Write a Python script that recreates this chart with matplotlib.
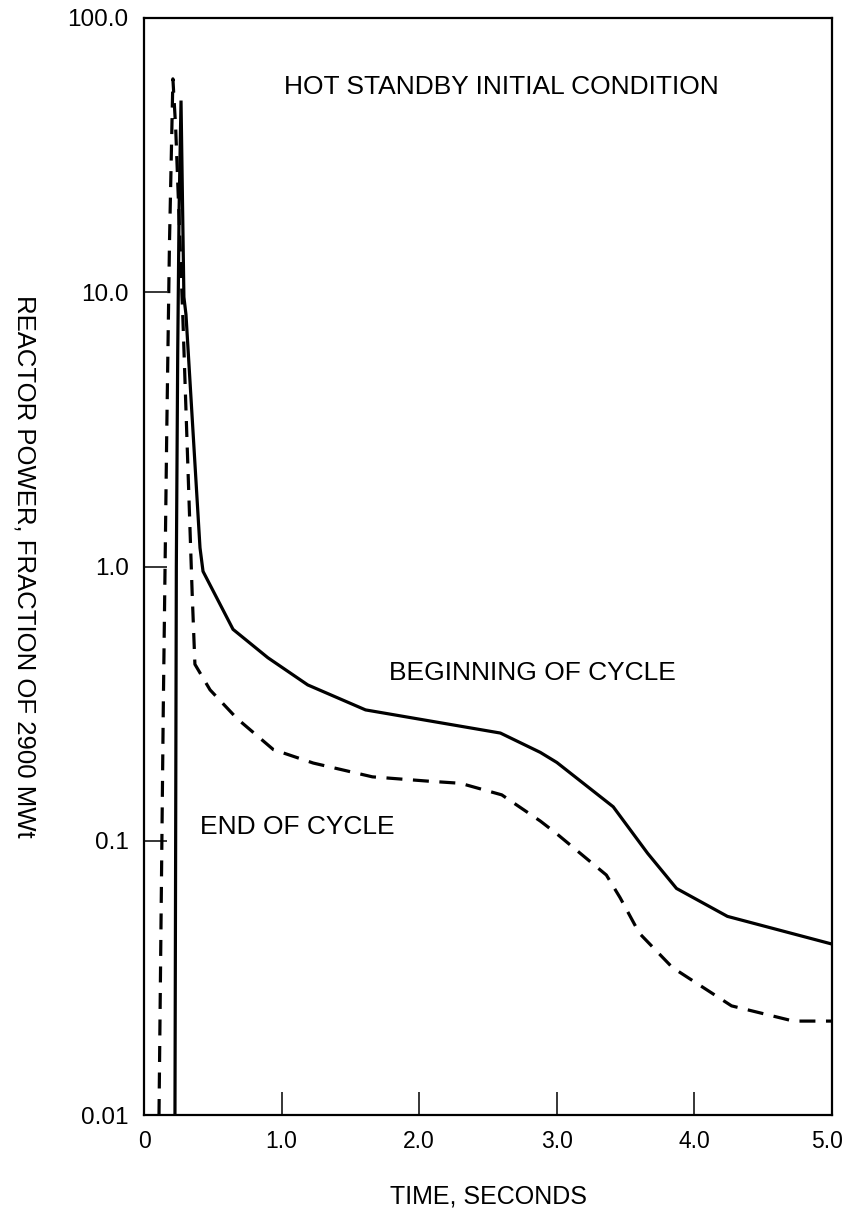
import matplotlib
matplotlib.use("Agg")
import matplotlib.pyplot as plt
from matplotlib.ticker import FixedLocator, FixedFormatter, NullLocator
from matplotlib.transforms import ScaledTranslation

plt.rcParams['font.family'] = ['Liberation Sans', 'DejaVu Sans']

# Beginning of cycle (solid)
boc_t = [0.225, 0.235, 0.245, 0.255, 0.269, 0.29, 0.305, 0.407, 0.429,
         0.647, 0.90, 1.19, 1.61, 2.59, 2.88, 3.0, 3.41, 3.66, 3.87,
         4.24, 5.0]
boc_p = [0.01, 1.0, 6.0, 20.0, 50.0, 9.6, 8.3, 1.17, 0.96,
         0.59, 0.465, 0.37, 0.30, 0.247, 0.21, 0.193, 0.133, 0.09, 0.067,
         0.053, 0.042]

# End of cycle (dashed)
eoc_t = [0.109, 0.14, 0.165, 0.185, 0.21, 0.23, 0.283, 0.35, 0.37,
         0.48, 0.676, 0.94, 1.23, 1.66, 2.06, 2.30, 2.6, 2.88, 3.0,
         3.36, 3.46, 3.6, 3.84, 4.27, 4.72, 5.0]
eoc_p = [0.01, 0.3, 3.0, 15.0, 60.0, 40.0, 7.9, 0.8, 0.44,
         0.355, 0.279, 0.215, 0.192, 0.171, 0.165, 0.162, 0.147, 0.118, 0.106,
         0.075, 0.062, 0.046, 0.0345, 0.025, 0.022, 0.022]

x_ticks = [0, 1, 2, 3, 4, 5]
x_labels = ['0', '1.0', '2.0', '3.0', '4.0', '5.0']
y_ticks = [0.01, 0.1, 1, 10, 100]
y_labels = ['0.01', '0.1', '1.0', '10.0', '100.0']

fig = plt.figure(figsize=(8.46, 12.11), dpi=100)
ax = fig.add_axes([144 / 846, 1 - 1115 / 1211, (832 - 144) / 846, (1115 - 18) / 1211])

ax.plot(boc_t, boc_p, color='black', linewidth=2.3, solid_joinstyle='miter')
ax.plot(eoc_t, eoc_p, color='black', linewidth=2.3, dashes=(5, 3.3))

ax.set_yscale('log')
ax.set_xlim(0, 5.0)
ax.set_ylim(0.01, 100)

ax.xaxis.set_major_locator(FixedLocator(x_ticks))
ax.xaxis.set_major_formatter(FixedFormatter(x_labels))
ax.yaxis.set_major_locator(FixedLocator(y_ticks))
ax.yaxis.set_major_formatter(FixedFormatter(y_labels))
ax.yaxis.set_minor_locator(NullLocator())

ax.tick_params(direction='in', length=16.5, width=1.1, labelsize=17.5)
ax.tick_params(axis='x', pad=11, labelsize=16.5)
ax.tick_params(axis='y', pad=11)
for s in ax.spines.values():
    s.set_linewidth(1.6)

# keep the last x label inside the canvas
fig.canvas.draw()
last = ax.get_xticklabels()[-1]
last.set_transform(last.get_transform() + ScaledTranslation(-5 / 100, 0, fig.dpi_scale_trans))

ax.set_xlabel('TIME, SECONDS', fontsize=18, va='center')
ax.xaxis.set_label_coords(0.5, -0.0745)
ax.set_ylabel('REACTOR POWER, FRACTION OF 2900 MWt', fontsize=18.5,
              rotation=270, va='center')
ax.yaxis.set_label_coords(-0.174, 0.5)

ax.text(1.02, 56, 'HOT STANDBY INITIAL CONDITION', fontsize=19, va='center')
ax.text(1.78, 0.41, 'BEGINNING OF CYCLE', fontsize=19, va='center')
ax.text(0.41, 0.112, 'END OF CYCLE', fontsize=19, va='center')

fig.savefig('out.png', dpi=100)
